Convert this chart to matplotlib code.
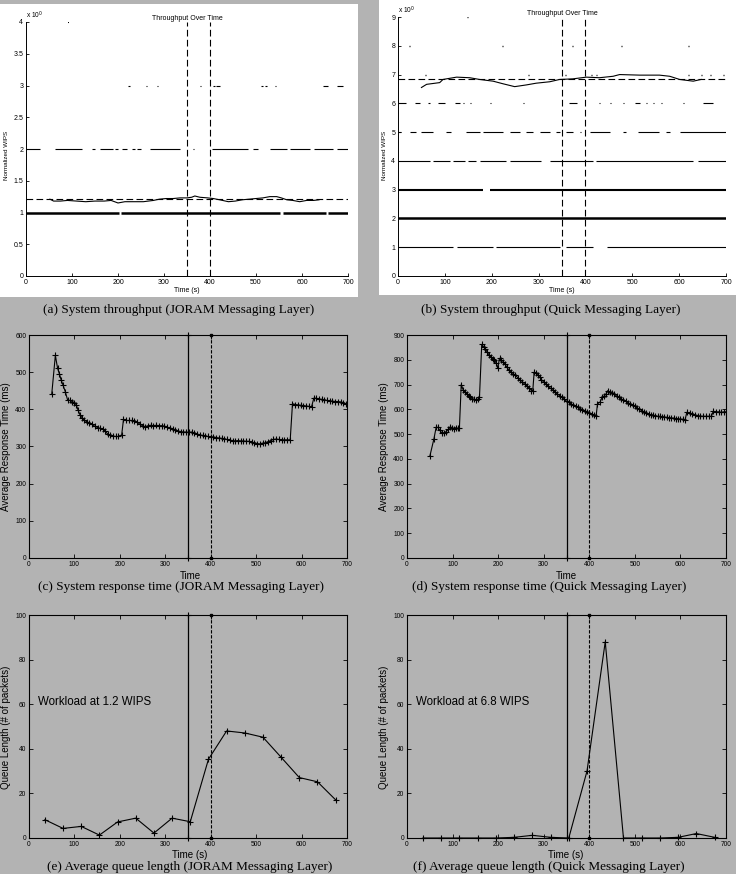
import matplotlib
matplotlib.use('Agg')
import matplotlib.pyplot as plt
from matplotlib.patches import Rectangle
from matplotlib.ticker import FormatStrFormatter

plt.rcParams['font.family'] = ['Liberation Sans', 'DejaVu Sans']

W, H = 736, 874
BG = '#b3b3b3'

# ---- (a) throughput JORAM: runs of samples (start s, end s) per WIPS level
a_runs_1 = [(0, 203), (206, 552), (558, 652), (656, 700)]
a_runs_2 = [(1, 30), (63, 121), (143, 150), (161, 190), (193, 201), (208, 219),
            (230, 237), (241, 251), (270, 335), (364, 366), (404, 483), (494, 505),
            (530, 567), (574, 617), (625, 668), (675, 700)]
a_runs_3 = [(222, 226), (261, 263), (285, 287), (378, 380), (407, 410), (414, 422),
            (511, 516), (520, 524), (541, 543), (646, 657), (676, 690)]
a_runs_4 = [(92, 94)]
a_avg_t = [52, 60, 75, 90, 110, 130, 150, 170, 185, 200, 215, 235, 255, 277, 290,
           305, 320, 335, 350, 360, 367, 378, 395, 407, 421, 440, 455, 470, 485,
           500, 515, 530, 545, 555, 567, 580, 595, 610, 625, 637]
a_avg_v = [1.21, 1.18, 1.18, 1.19, 1.18, 1.17, 1.18, 1.18, 1.19, 1.15, 1.17, 1.17,
           1.17, 1.19, 1.21, 1.22, 1.22, 1.23, 1.23, 1.24, 1.26, 1.24, 1.23, 1.22,
           1.20, 1.17, 1.18, 1.20, 1.21, 1.22, 1.23, 1.25, 1.25, 1.23, 1.20, 1.19,
           1.17, 1.19, 1.19, 1.20]
a_mean = 1.21

# ---- (b) throughput Quick
b_runs_1 = [(0, 117), (125, 203), (210, 345), (359, 416), (445, 700)]
b_runs_2 = [(0, 700)]
b_runs_3 = [(0, 181), (196, 700)]
b_runs_4 = [(0, 68), (75, 110), (117, 142), (149, 167), (174, 231), (238, 306),
            (324, 416), (423, 630), (640, 700)]
b_runs_5 = [(0, 7), (25, 39), (50, 75), (103, 114), (146, 174), (181, 224),
            (238, 260), (274, 288), (302, 324), (338, 345), (359, 373), (388, 391),
            (409, 452), (480, 487), (512, 558), (573, 580), (601, 700)]
b_runs_6 = [(0, 18), (36, 46), (64, 68), (85, 100), (121, 132), (139, 141),
            (153, 155), (174, 176), (196, 198), (267, 269), (317, 319), (366, 381),
            (413, 415), (430, 432), (452, 454), (480, 482), (505, 516), (530, 532),
            (544, 546), (562, 564), (608, 610), (651, 672)]
b_runs_7 = [(57, 59), (95, 97), (277, 279), (356, 358), (412, 414), (423, 425),
            (619, 621), (647, 649), (665, 667), (694, 696)]
b_runs_8 = [(24, 26), (223, 225), (372, 374), (476, 478), (618, 620)]
b_runs_9 = [(148, 150)]
b_avg_t = [50, 61, 89, 96, 125, 153, 174, 203, 224, 249, 274, 295, 324, 345, 373,
           402, 430, 459, 473, 516, 558, 580, 601, 630, 647]
b_avg_v = [6.55, 6.66, 6.72, 6.83, 6.91, 6.89, 6.83, 6.77, 6.68, 6.58, 6.64, 6.70,
           6.75, 6.83, 6.85, 6.91, 6.89, 6.94, 7.0, 6.98, 6.98, 6.94, 6.83, 6.77,
           6.83]
b_mean = 6.86

# ---- (c) response time JORAM
c_t = [50, 58, 63, 67, 71, 75, 80, 85, 90, 95, 100, 104, 108, 112, 117, 122, 127,
       133, 139, 145, 151, 157, 163, 168, 173, 179, 185, 191, 197, 204, 208, 214,
       220, 226, 232, 238, 244, 250, 256, 262, 268, 274, 280, 286, 292, 298, 304,
       310, 316, 322, 328, 334, 340, 346, 352, 358, 364, 370, 376, 382, 388, 394,
       400, 406, 412, 418, 424, 430, 436, 442, 448, 454, 460, 466, 472, 478, 484,
       490, 496, 502, 508, 514, 520, 526, 532, 538, 544, 550, 556, 562, 568, 575,
       580, 586, 592, 598, 604, 610, 616, 622, 627, 632, 638, 644, 650, 656, 662,
       668, 674, 680, 686, 692, 698]
c_v = [440, 545, 510, 495, 478, 465, 447, 425, 424, 421, 418, 412, 398, 386, 377,
       370, 367, 363, 360, 354, 351, 349, 347, 341, 334, 330, 328, 327, 327, 331,
       373, 370, 370, 370, 369, 366, 360, 356, 353, 356, 357, 356, 357, 356, 356,
       355, 352, 350, 348, 345, 342, 340, 339, 339, 338, 339, 336, 334, 331, 330,
       328, 327, 326, 326, 324, 323, 322, 320, 319, 317, 316, 315, 316, 315, 315,
       314, 314, 312, 310, 308, 307, 309, 310, 313, 316, 319, 320, 319, 318, 318,
       318, 318, 415, 413, 412, 411, 410, 409, 408, 407, 430, 430, 428, 427, 425,
       424, 423, 422, 421, 421, 420, 418, 415]

# ---- (d) response time Quick
d_t = [50, 59, 64, 68, 72, 76, 81, 86, 91, 95, 99, 103, 107, 111, 115, 119, 123,
       127, 131, 135, 139, 143, 147, 151, 155, 159, 164, 168, 172, 176, 180, 184,
       188, 192, 196, 199, 203, 207, 211, 215, 219, 223, 228, 233, 238, 243, 248,
       253, 258, 263, 268, 273, 276, 279, 283, 287, 291, 295, 300, 305, 310, 315,
       320, 325, 330, 335, 340, 345, 350, 355, 360, 365, 370, 375, 380, 385, 390,
       395, 400, 405, 410, 415, 418, 424, 428, 432, 436, 440, 445, 450, 455, 460,
       465, 470, 475, 480, 485, 490, 495, 500, 505, 510, 515, 520, 525, 530, 535,
       540, 545, 550, 555, 560, 565, 570, 575, 580, 585, 590, 595, 600, 605, 610,
       614, 620, 626, 632, 638, 644, 650, 656, 662, 668, 672, 678, 684, 690, 696,
       700]
d_v = [410, 480, 528, 527, 515, 506, 505, 510, 520, 530, 525, 520, 526, 524, 525,
       700, 680, 670, 663, 655, 648, 643, 641, 639, 640, 648, 862, 853, 845, 830,
       820, 812, 805, 800, 785, 765, 806, 800, 793, 783, 770, 760, 752, 744, 737,
       728, 720, 712, 702, 695, 685, 676, 675, 750, 745, 738, 730, 720, 710, 701,
       693, 685, 677, 670, 662, 655, 648, 640, 633, 628, 622, 617, 612, 608, 603,
       599, 595, 590, 585, 580, 577, 573, 622, 630, 648, 653, 660, 675, 670, 664,
       660, 654, 648, 642, 637, 632, 627, 622, 617, 612, 605, 600, 595, 590, 585,
       581, 578, 577, 574, 572, 572, 570, 569, 568, 566, 565, 565, 563, 562, 561,
       560, 556, 588, 585, 582, 578, 575, 573, 572, 572, 572, 572, 592, 590, 590,
       588, 590, 590]

# ---- (e)/(f) queue length
q_t = [35, 75, 115, 155, 195, 235, 275, 315, 355, 395, 435, 475, 515, 555, 595, 635, 675]
e_v = [8.2, 4.3, 5.2, 1.3, 7.2, 8.9, 2.2, 8.9, 7.3, 35.3, 48, 47.1, 45.2, 36.2, 27.1, 25.2, 17.1]
f_v = [0, 0, 0, 0, 0, 0.3, 1.2, 0.3, 0, 30, 88, 0, 0, 0, 0.3, 2, 0.3]

marks = [350, 400]


def box(x0, y0, x1, y1):
    return [x0 / W, 1 - y1 / H, (x1 - x0) / W, (y1 - y0) / H]


def px(x, y):
    return x / W, 1 - y / H


fig = plt.figure(figsize=(W / 100, H / 100), dpi=100, facecolor=BG)

# white MATLAB figure panels (behind the axes)
fig.patches.append(Rectangle(px(0, 297), 358 / W, 293 / H, transform=fig.transFigure,
                             facecolor='white', edgecolor='none', zorder=-10))
fig.patches.append(Rectangle(px(379, 295), 357 / W, 295 / H, transform=fig.transFigure,
                             facecolor='white', edgecolor='none', zorder=-10))


def throughput(ax, levels, avg_t, avg_v, mean, ymax):
    ax.set_facecolor('white')
    for lvl, runs, lw in levels:
        for s, e in runs:
            ax.hlines(lvl, s, e, color='black', lw=lw)
    ax.plot(avg_t, avg_v, color='black', lw=0.8)
    ax.axhline(mean, color='black', lw=0.8, ls=(0, (6, 3)))
    for m in marks:
        ax.axvline(m, color='black', lw=0.8, ls=(0, (6, 3)))
    ax.set_xlim(0, 700)
    ax.set_ylim(0, ymax)
    ax.set_xticks(range(0, 701, 100))
    ax.yaxis.set_major_formatter(FormatStrFormatter('%g'))
    ax.tick_params(direction='in', length=2.5, width=0.6, labelsize=5, pad=2)
    for sp in ax.spines.values():
        sp.set_linewidth(0.7)
    ax.spines['top'].set_visible(False)
    ax.spines['right'].set_visible(False)
    ax.set_title('Throughput Over Time', fontsize=5, pad=1)
    ax.text(0.0, 1.005, r'x 10$^0$', transform=ax.transAxes, fontsize=4.8,
            ha='left', va='bottom')
    ax.set_xlabel('Time (s)', fontsize=5, labelpad=1)


ax_a = fig.add_axes(box(26, 22, 348, 276))
throughput(ax_a, [(1, a_runs_1, 1.8), (2, a_runs_2, 0.8), (3, a_runs_3, 0.8),
                  (4, a_runs_4, 1.5)], a_avg_t, a_avg_v, a_mean, 4)
ax_a.set_yticks([0, 0.5, 1, 1.5, 2, 2.5, 3, 3.5, 4])
fig.text(*px(7, 155), 'Normalized WIPS', rotation=90, fontsize=4.5, ha='center', va='center')

ax_b = fig.add_axes(box(398, 17, 726, 276))
throughput(ax_b, [(1, b_runs_1, 0.8), (2, b_runs_2, 1.8), (3, b_runs_3, 1.5),
                  (4, b_runs_4, 0.8), (5, b_runs_5, 0.8), (6, b_runs_6, 0.8),
                  (7, b_runs_7, 1.0), (8, b_runs_8, 1.0), (9, b_runs_9, 1.0)],
           b_avg_t, b_avg_v, b_mean, 9)
ax_b.set_yticks(range(0, 10))
fig.text(*px(385, 155), 'Normalized WIPS', rotation=90, fontsize=4.5, ha='center', va='center')


def gnu(ax, ymax, ystep):
    ax.set_facecolor('none')
    ax.set_xlim(0, 700)
    ax.set_ylim(0, ymax)
    ax.set_xticks(range(0, 701, 100))
    ax.set_yticks(range(0, ymax + 1, ystep))
    ax.tick_params(direction='in', length=3, width=0.6, labelsize=4.8, pad=2,
                   top=True, right=True)
    for sp in ax.spines.values():
        sp.set_linewidth(0.8)
    ax.axvline(marks[0], color='black', lw=0.9)
    ax.axvline(marks[1], color='black', lw=0.8, ls=(0, (3, 1.5)))
    ax.plot([marks[0], marks[0]], [0, ymax], ls='none', marker='+', color='black',
            ms=4, mew=0.8, clip_on=False)
    ax.plot([marks[1], marks[1]], [0, ymax], ls='none', marker='s', color='black',
            ms=2, clip_on=False)


ax_c = fig.add_axes(box(29, 335, 347, 558))
gnu(ax_c, 600, 100)
ax_c.plot(c_t, c_v, color='black', lw=0.8, marker='+', ms=4, mew=0.8)
fig.text(*px(190, 576), 'Time', fontsize=7, ha='center', va='center')
fig.text(*px(6, 447), 'Average Response Time (ms)', rotation=90, fontsize=7,
         ha='center', va='center')

ax_d = fig.add_axes(box(407, 335, 726, 558))
gnu(ax_d, 900, 100)
ax_d.plot(d_t, d_v, color='black', lw=0.8, marker='+', ms=4, mew=0.8)
fig.text(*px(566, 576), 'Time', fontsize=7, ha='center', va='center')
fig.text(*px(384, 447), 'Average Response Time (ms)', rotation=90, fontsize=7,
         ha='center', va='center')

ax_e = fig.add_axes(box(29, 615, 347, 838))
gnu(ax_e, 100, 20)
ax_e.plot(q_t, e_v, color='black', lw=0.8, marker='+', ms=4.5, mew=0.8, clip_on=False)
ax_e.text(20, 61, 'Workload at 1.2 WIPS', fontsize=8.3, ha='left', va='center')
fig.text(*px(190, 855), 'Time (s)', fontsize=7, ha='center', va='center')
fig.text(*px(6, 727), 'Queue Length (# of packets)', rotation=90, fontsize=7,
         ha='center', va='center')

ax_f = fig.add_axes(box(407, 615, 726, 838))
gnu(ax_f, 100, 20)
ax_f.plot(q_t, f_v, color='black', lw=0.8, marker='+', ms=4.5, mew=0.8, clip_on=False)
ax_f.text(20, 61, 'Workload at 6.8 WIPS', fontsize=8.3, ha='left', va='center')
fig.text(*px(566, 855), 'Time (s)', fontsize=7, ha='center', va='center')
fig.text(*px(384, 727), 'Queue Length (# of packets)', rotation=90, fontsize=7,
         ha='center', va='center')

caps = [((179, 310), '(a) System throughput (JORAM Messaging Layer)'),
        ((551, 310), '(b) System throughput (Quick Messaging Layer)'),
        ((181, 587), '(c) System response time (JORAM Messaging Layer)'),
        ((549, 587), '(d) System response time (Quick Messaging Layer)'),
        ((190, 867), '(e) Average queue length (JORAM Messaging Layer)'),
        ((549, 867), '(f) Average queue length (Quick Messaging Layer)')]
for (x, y), s in caps:
    fig.text(*px(x, y), s, fontsize=9.5, family='Liberation Serif', ha='center', va='center')

fig.savefig('out.png', dpi=100, facecolor=BG)
